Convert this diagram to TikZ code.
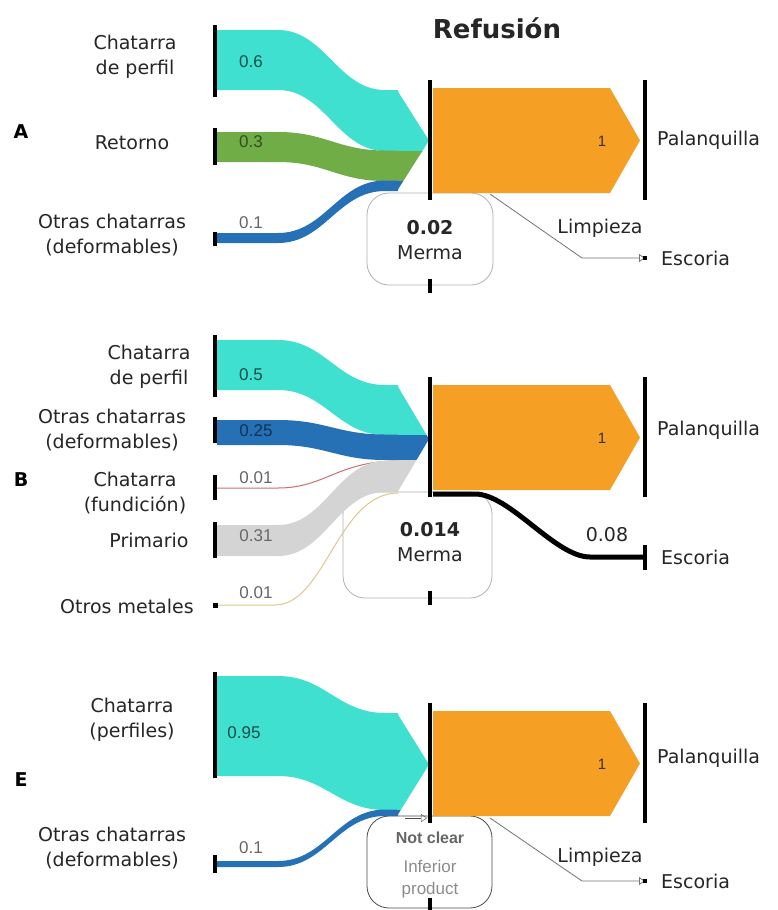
\documentclass[tikz,border=0pt]{standalone}
\usepackage{fontspec}
\setmainfont{DejaVu Sans}
\newfontfamily\valfont{Liberation Sans}
\usetikzlibrary{arrows.meta}

\definecolor{turq}{RGB}{64,224,208}
\definecolor{leaf}{RGB}{112,173,71}
\definecolor{steel}{RGB}{38,112,182}
\definecolor{melt}{RGB}{245,160,36}
\definecolor{ash}{RGB}{212,212,212}
\definecolor{rust}{RGB}{205,110,110}
\definecolor{sand}{RGB}{222,200,140}

% colour, left top, left bottom, right top, right bottom
\newcommand{\band}[5]{%
  \fill[#1] (217,#2) -- (278,#2) .. controls (325,#2) and (338,#4) .. (385,#4) -- (398,#4)
    -- (398,#5) -- (385,#5) .. controls (338,#5) and (325,#3) .. (278,#3) -- (217,#3) -- cycle;}

\begin{document}
\begin{tikzpicture}[x=1pt, y=-1pt, every node/.style={inner sep=0pt},
    lab/.style={font=\fontsize{19}{25}\selectfont, align=center, text=black!85},
    val/.style={font=\valfont\fontsize{17}{19}\selectfont, text=black!60},
    pillar/.style={line width=4pt},
    merma/.style={line width=0.8pt, rounded corners=22pt},
    thinflow/.style={line width=0.8pt, black!55, -{Triangle[open,length=6pt,width=8pt]}}]
  \useasboundingbox (0,0) rectangle (778,910);
  \fill[white] (0,0) rectangle (778,910);

  % loss boxes (behind the flows)
  \draw[merma, gray!60] (367,193) rectangle (493,285);
  \draw[merma, gray!60] (343,492) rectangle (492,598);
  \draw[merma, black!70] (367,816) rectangle (492,908);

  % ---- A ----
  \band{turq}{30}{90}{90}{151}
  \band{leaf}{132}{162}{150.5}{181}
  \band{steel}{233}{243}{180.5}{191}
  \begin{scope}
    \clip (397,90) -- (429,140.5) -- (397,191) -- cycle;
    \fill[turq] (396,90) rectangle (430,151);
    \fill[leaf] (396,150.5) rectangle (430,181);
    \fill[steel] (396,180.5) rectangle (430,191);
  \end{scope}

  % ---- B ----
  \band{turq}{340}{390}{385}{435}
  \band{steel}{420}{445}{434.5}{460}
  \draw[rust, line width=1pt] (217,488) -- (278,488) .. controls (325,488) and (338,461) .. (398,461);
  \band{ash}{525}{556}{461}{492}
  \draw[sand, line width=1pt] (217,605) -- (275,605) .. controls (325,605) and (338,493) .. (398,493);
  \begin{scope}
    \clip (397,385) -- (429,439) -- (397,493) -- cycle;
    \fill[turq] (396,385) rectangle (430,435);
    \fill[steel] (396,434.5) rectangle (430,460);
    \fill[ash] (396,460) rectangle (430,493);
  \end{scope}

  % ---- E ----
  \band{turq}{676}{776}{713}{810}
  \band{steel}{861}{867}{809.5}{816}
  \begin{scope}
    \clip (397,713) -- (429,764.5) -- (397,816) -- cycle;
    \fill[turq] (396,713) rectangle (430,810);
    \fill[steel] (396,809.5) rectangle (430,816);
  \end{scope}

  % process and product
  \foreach \o in {0,297,623}{
    \fill[melt] (433,88+\o) -- (610,88+\o) -- (640,140.5+\o) -- (610,193+\o) -- (433,193+\o) -- cycle;
    \draw[pillar] (430,80+\o) -- (430,200+\o);
    \draw[pillar] (645,80+\o) -- (645,200+\o);
    \node[font=\valfont\fontsize{15}{17}\selectfont, text=black!80] (one\o) at (602,141+\o) {1};
  }

  % source bars
  \foreach \t/\b in {25/97, 128/165, 232/246, 335/397, 417/443, 475/500, 522/558, 672/778, 855/873}
    \draw[pillar] (215,\t) -- (215,\b);
  \fill (212.5,602.5) rectangle (217.5,607.5);

  % loss ticks
  \foreach \y in {286,598,905}
    \draw[pillar] (430,\y-7) -- (430,\y+7);
  \draw[black!70, -{Triangle[open,length=6pt,width=8pt]}] (405,818) -- (427,818);

  % slag
  \coordinate (limA) at (490,194);
  \coordinate (bendA) at (582,258);
  \coordinate (dotA) at (645,258);
  \draw[thinflow] (limA) -- (bendA) -- (dotA);
  \fill (dotA) ++(-2,-2) rectangle ++(4,4);
  \coordinate (slagB) at (433,494);
  \coordinate (endB) at (643,557);
  \draw[line width=5pt] (slagB) -- (475,494) .. controls (510,494) and (555,557) .. (590,557) -- (endB);
  \draw[pillar] (645,545) -- (645,570);
  \coordinate (limE) at (490,818);
  \coordinate (bendE) at (582,881);
  \coordinate (dotE) at (645,881);
  \draw[thinflow] (limE) -- (bendE) -- (dotE);
  \fill (dotE) ++(-2,-2) rectangle ++(4,4);

  % titles
  \node[font=\bfseries\fontsize{26}{30}\selectfont, text=black!85] (title) at (497,28) {Refusión};
  \node[font=\bfseries\fontsize{19}{22}\selectfont] (panA) at (21,132) {A};
  \node[font=\bfseries\fontsize{19}{22}\selectfont] (panB) at (21,480) {B};
  \node[font=\bfseries\fontsize{19}{22}\selectfont] (panE) at (21,780) {E};

  % sources
  \node[lab] (srcA1) at (135,57) {Chatarra\\de perfil};
  \node[lab] (srcA2) at (132,143) {Retorno};
  \node[lab] (srcA3) at (112,235) {Otras chatarras\\(deformables)};
  \node[lab] (srcB1) at (149,367) {Chatarra\\de perfil};
  \node[lab] (srcB2) at (112,430) {Otras chatarras\\(deformables)};
  \node[lab] (srcB3) at (135,493) {Chatarra\\(fundición)};
  \node[lab] (srcB4) at (149,540) {Primario};
  \node[lab] (srcB5) at (127,606) {Otros metales};
  \node[lab] (srcE1) at (132,720) {Chatarra\\(perfiles)};
  \node[lab] (srcE2) at (112,848) {Otras chatarras\\(deformables)};

  % flow values
  \node[val, text=turq!35!black] (vA1) at (251,62) {0.6};
  \node[val, text=leaf!45!black] (vA2) at (251,142) {0.3};
  \node[val] (vA3) at (251,223) {0.1};
  \node[val, text=turq!35!black] (vB1) at (251,375) {0.5};
  \node[val, text=steel!45!black] (vB2) at (256,431) {0.25};
  \node[val] (vB3) at (256,478) {0.01};
  \node[val] (vB4) at (256,536) {0.31};
  \node[val] (vB5) at (256,593) {0.01};
  \node[val, text=turq!35!black] (vE1) at (244,733) {0.95};
  \node[val] (vE2) at (251,848) {0.1};

  % products
  \node[lab, anchor=west] (palA) at (657,140) {Palanquilla};
  \node[lab, anchor=west] (palB) at (657,430) {Palanquilla};
  \node[lab, anchor=west] (palE) at (657,758) {Palanquilla};
  \node[lab, anchor=west] (escA) at (661,258) {Escoria};
  \node[lab, anchor=west] (escB) at (661,557) {Escoria};
  \node[lab, anchor=west] (escE) at (661,881) {Escoria};
  \node[lab] (limpA) at (600,228) {Limpieza};
  \node[lab] (limpE) at (600,857) {Limpieza};
  \node[lab] (valB) at (607,535) {0.08};

  % losses
  \node[lab] (mermaA) at (430,240) {\textbf{0.02}\\Merma};
  \node[lab] (mermaB) at (430,542) {\textbf{0.014}\\Merma};
  \node[font=\valfont\bfseries\fontsize{16}{18}\selectfont, text=black!60] (clearE) at (430,838) {Not clear};
  \node[font=\valfont\fontsize{17}{22}\selectfont, text=black!45, align=center] (infE) at (430,879) {Inferior\\product};
\end{tikzpicture}
\end{document}
